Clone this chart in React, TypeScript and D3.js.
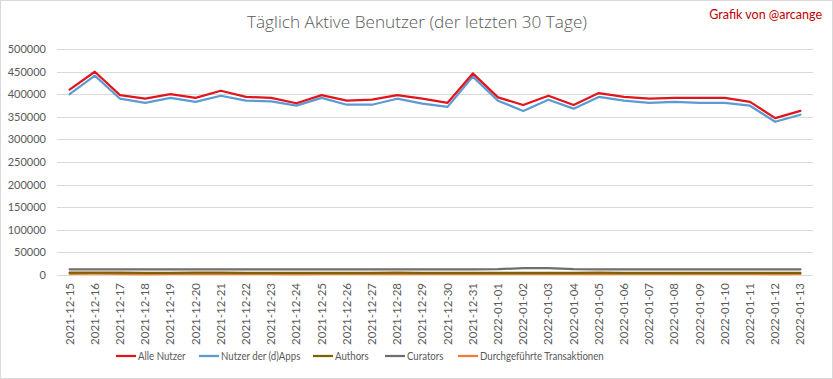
import React from "react";
import * as d3 from "d3";

const dates = [
  "2021-12-15","2021-12-16","2021-12-17","2021-12-18","2021-12-19","2021-12-20","2021-12-21","2021-12-22","2021-12-23","2021-12-24",
  "2021-12-25","2021-12-26","2021-12-27","2021-12-28","2021-12-29","2021-12-30","2021-12-31","2022-01-01","2022-01-02","2022-01-03",
  "2022-01-04","2022-01-05","2022-01-06","2022-01-07","2022-01-08","2022-01-09","2022-01-10","2022-01-11","2022-01-12","2022-01-13",
];

const alleNutzer = [
  410000,449700,398000,390000,400000,392000,407700,394000,392000,380000,
  398000,385600,387800,398000,390000,381000,446000,393000,376000,396600,
  376000,402600,394000,390000,392000,392000,392000,383000,347000,363000,
];
const dappsNutzer = [
  400000,441000,390000,381000,392000,383000,396600,385600,384000,374600,
  392000,376700,376700,390000,379000,372000,439000,385600,363000,387800,
  368000,394000,385600,381000,383000,381000,381000,374600,339000,354600,
];
const authors = [
  5200,5400,5000,4800,4900,5000,5100,4900,4800,4600,
  4700,4800,4900,5000,4800,4700,4900,4800,4700,4900,
  4800,5000,4900,4800,4800,4800,4700,4700,4600,4700,
];
const curators = [
  12500,12600,12400,12300,12400,12400,12500,12400,12300,12200,
  12300,12300,12400,12400,12300,12200,12400,12800,15000,15200,
  13000,12600,12500,12400,12400,12400,12300,12300,12200,12300,
];
const transaktionen = [
  2600,2800,2400,2200,2400,2500,2700,2400,2300,2100,
  2300,2400,2600,2700,2400,2300,2500,2400,2300,2500,
  2400,2700,2600,2500,2400,2400,2300,2300,2200,2300,
];
const yTicks = [0,50000,100000,150000,200000,250000,300000,350000,400000,450000,500000];

const series = [
  { name: "Alle Nutzer", values: alleNutzer, color: "#e0161c" },
  { name: "Nutzer der (d)Apps", values: dappsNutzer, color: "#5b9bd5" },
  { name: "Authors", values: authors, color: "#7f6000" },
  { name: "Curators", values: curators, color: "#6e6e6e" },
  { name: "Durchgeführte Transaktionen", values: transaktionen, color: "#ed7d31" },
];
const drawOrder = [4, 2, 3, 1, 0];
const legendX = [116, 199, 313, 385, 458];

const W = 833, H = 379;
const left = 57, right = 813, top = 49, bottom = 275;
const font = "'Open Sans', sans-serif";
const lato = "Lato, sans-serif";

export default function App() {
  const x = d3.scaleBand<string>().domain(dates).range([left, right]);
  const y = d3.scaleLinear().domain([0, 500000]).range([bottom, top]);
  const line = d3.line<number>()
    .x((_, i) => (x(dates[i]) as number) + x.bandwidth() / 2)
    .y((v) => y(v));

  return (
    <svg width={W} height={H} style={{ position: "absolute", left: 0, top: 0, background: "#fff" }}>
      <rect x={0.5} y={0.5} width={W - 1} height={H - 1} fill="#fff" stroke="#d9d9d9" />
      <text x={417} y={28} textAnchor="middle" fontFamily={font} fontSize={17.2} fill="#595959" fontWeight={300}>
        Täglich Aktive Benutzer (der letzten 30 Tage)
      </text>
      <text x={822} y={19} textAnchor="end" fontFamily={lato} fontSize={12.5} fill="#c00000">
        Grafik von @arcange
      </text>
      {yTicks.map((t) => (
        <g key={t}>
          <line x1={left} x2={right} y1={Math.round(y(t)) + 0.5} y2={Math.round(y(t)) + 0.5} stroke="#d9d9d9" />
          <text x={46} y={y(t) + 4} textAnchor="end" fontFamily={lato} fontSize={11} fill="#595959">
            {t}
          </text>
        </g>
      ))}
      {dates.map((d) => {
        const cx = (x(d) as number) + x.bandwidth() / 2;
        return (
          <text key={d} transform={`translate(${cx + 4},${283}) rotate(-90)`} textAnchor="end"
            fontFamily={lato} fontSize={11.5} fill="#595959">
            {d}
          </text>
        );
      })}
      {drawOrder.map((si) => (
        <path key={si} d={line(series[si].values) || ""} fill="none" stroke={series[si].color}
          strokeWidth={2.25} strokeLinejoin="round" strokeLinecap="round" />
      ))}
      {series.map((s, i) => (
        <g key={s.name}>
          <line x1={legendX[i]} x2={legendX[i] + 20} y1={356} y2={356} stroke={s.color} strokeWidth={2.25} />
          <text transform={`translate(${legendX[i] + 22},360) scale(0.84,1)`} fontFamily={lato} fontSize={11.5} fill="#595959">
            {s.name}
          </text>
        </g>
      ))}
    </svg>
  );
}
